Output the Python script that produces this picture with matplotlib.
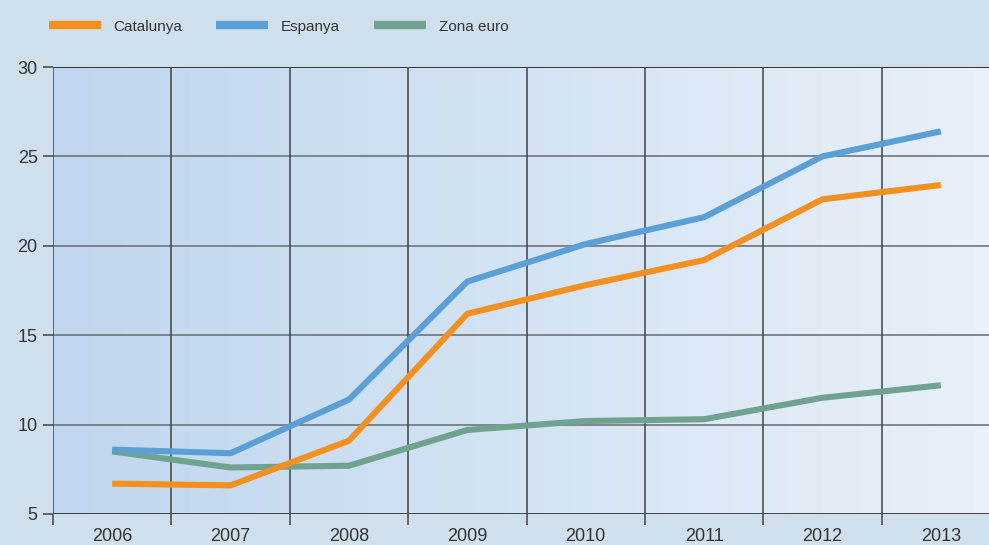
import numpy as np
import matplotlib
matplotlib.use('Agg')
import matplotlib.pyplot as plt
from matplotlib.colors import LinearSegmentedColormap
from matplotlib.lines import Line2D

plt.rcParams['font.family'] = ['Liberation Sans', 'DejaVu Sans']

years = ['2006', '2007', '2008', '2009', '2010', '2011', '2012', '2013']
catalunya = [6.7, 6.6, 9.1, 16.2, 17.8, 19.2, 22.6, 23.4]
espanya = [8.6, 8.4, 11.4, 18.0, 20.1, 21.6, 25.0, 26.4]
zona_euro = [8.5, 7.6, 7.7, 9.7, 10.2, 10.3, 11.5, 12.2]

bg = '#cfe0ec'
fig = plt.figure(figsize=(9.89, 5.45), dpi=100, facecolor=bg)
# axes runs slightly past the right edge, like the original
ax = fig.add_axes([53 / 989, 31 / 545, 947 / 989, 447 / 545])
ax.set_facecolor(bg)

x = np.arange(len(years))
ax.set_xlim(-0.5, len(years) - 0.5)
ax.set_ylim(5, 30)

# background gradient of the plot area
grad = LinearSegmentedColormap.from_list('g', ['#bfd6ee', '#e9f1f9'])
ax.imshow(np.linspace(0, 1, 256).reshape(1, -1), cmap=grad, aspect='auto',
          extent=(-0.5, len(years) - 0.5, 5, 30), zorder=0)

for y in range(10, 30, 5):
    ax.axhline(y, color='#6e747a', lw=1.2, zorder=1)
ax.axhline(30, color='#222222', lw=1.3, zorder=1)
ax.axhline(5, color='#333333', lw=1.3, zorder=1)
for b in np.arange(-0.5, len(years) - 0.5, 1):
    ax.axvline(b, color='#3e4448', lw=1.1, zorder=1)

lw = 4.4
ax.plot(x, zona_euro, color='#6fa38f', lw=lw, solid_capstyle='butt', zorder=3)
ax.plot(x, catalunya, color='#f39020', lw=lw, solid_capstyle='butt', zorder=4)
ax.plot(x, espanya, color='#5aa0d6', lw=lw, solid_capstyle='butt', zorder=5)

for s in ax.spines.values():
    s.set_visible(False)

ax.set_yticks(range(5, 31, 5))
ax.tick_params(axis='y', length=7, width=1.1, color='#444', labelsize=13,
               labelcolor='#333333', pad=4)
ax.set_xticks(np.arange(-0.5, len(years) - 0.5, 1))
ax.set_xticklabels([])
ax.set_xticks(x, minor=True)
ax.set_xticklabels(years, minor=True)
ax.tick_params(axis='x', which='major', length=8, width=1.1, color='#444')
ax.tick_params(axis='x', which='minor', length=0, labelsize=13,
               labelcolor='#333333', pad=10)

handles = [Line2D([], [], color=c, lw=6, solid_capstyle='butt')
           for c in ['#f39020', '#5aa0d6', '#6fa38f']]
fig.legend(handles, ['Catalunya', 'Espanya', 'Zona euro'], loc='upper left',
           bbox_to_anchor=(35 / 989, 1 - 6 / 545), ncol=3, frameon=False,
           handlelength=3.4, handletextpad=0.85, columnspacing=2.2,
           fontsize=11, labelcolor='#333333')

fig.savefig('out.png', dpi=100, facecolor=bg)
